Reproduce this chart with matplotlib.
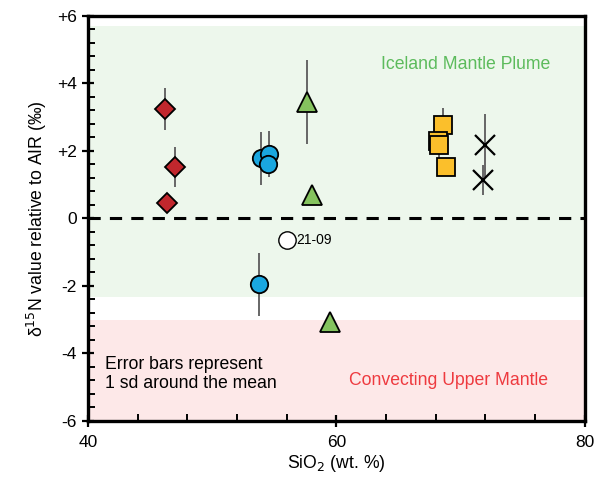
import matplotlib
matplotlib.use("Agg")
import matplotlib.pyplot as plt
from matplotlib.ticker import MultipleLocator

plt.rcParams["font.family"] = ["Liberation Sans", "DejaVu Sans"]

# ── Data ──────────────────────────────────────────────────────────────────────
dia_x  = [46.2, 47.0, 46.4]
dia_y  = [3.25, 1.52, 0.45]
dia_sd = [0.62, 0.60, 0.0]

blue_x  = [53.9, 54.6, 54.5, 53.8]
blue_y  = [1.78, 1.92, 1.62, -1.95]
blue_sd = [0.78, 0.68, 0.0, 0.93]

open_x, open_y, open_label = [56.0], [-0.65], "21-09"

tri_x  = [57.6, 58.0, 59.5]
tri_y  = [3.45, 0.70, -3.08]
tri_sd = [1.25, 0.20, 0.0]

sq_x  = [68.6, 68.2, 68.3, 68.8]
sq_y  = [2.78, 2.30, 2.18, 1.52]
sq_sd = [0.48, 0.0, 0.60, 0.0]

cross_x  = [72.0, 71.8]
cross_y  = [2.16, 1.13]
cross_sd = [0.92, 0.45]

ytick_vals   = [-6, -4, -2, 0, 2, 4, 6]
ytick_labels = ["-6", "-4", "-2", "0", "+2", "+4", "+6"]

FS = 12.7

fig = plt.figure(figsize=(5.98, 4.82), dpi=100)
ax = fig.add_axes([0.147, 0.127, 0.831, 0.840])
ax.set_xlim(40, 80)
ax.set_ylim(-6, 6)

# background fields
ax.axhspan(-2.32, 5.7, color="#edf7ec", zorder=0, lw=0)
ax.axhspan(-6, -3.0, color="#fde8e8", zorder=0, lw=0)
ax.axhline(0, color="black", lw=2.2, ls=(0, (4, 3)), zorder=1)

err_kw = dict(fmt="none", ecolor="#666666", elinewidth=1.4, capsize=0, zorder=2)

def series(x, y, sd, **kw):
    ax.errorbar(x, y, yerr=sd, **err_kw)
    ax.plot(x, y, ls="none", zorder=3, **kw)

series(dia_x, dia_y, dia_sd, marker="D", ms=10.5, mfc="#c1272d", mec="black", mew=1.3)
series(blue_x, blue_y, blue_sd, marker="o", ms=12.5, mfc="#1aa7e0", mec="black", mew=1.3)
ax.plot(open_x, open_y, ls="none", marker="o", ms=12.5, mfc="white", mec="black",
        mew=1.0, zorder=3)
ax.text(open_x[0] + 0.8, open_y[0], open_label, fontsize=10, va="center", ha="left")
series(tri_x, tri_y, tri_sd, marker="^", ms=15, mfc="#85c35e", mec="black", mew=1.3)
series(sq_x, sq_y, sq_sd, marker="s", ms=12.5, mfc="#fbbf2b", mec="black", mew=1.3)
series(cross_x, cross_y, cross_sd, marker="x", ms=14, mec="black", mew=1.6)

ax.text(70.4, 4.55, "Iceland Mantle Plume", color="#5cbb5c", fontsize=FS,
        ha="center", va="center")
ax.text(69.0, -4.82, "Convecting Upper Mantle", color="#ee3a3f", fontsize=FS,
        ha="center", va="center")
ax.text(41.4, -4.62, "Error bars represent\n1 sd around the mean", fontsize=FS,
        ha="left", va="center", linespacing=1.15)

# axes styling
for s in ax.spines.values():
    s.set_linewidth(2.4)
ax.xaxis.set_major_locator(MultipleLocator(20))
ax.xaxis.set_minor_locator(MultipleLocator(4))
ax.yaxis.set_minor_locator(MultipleLocator(0.4))
ax.set_yticks(ytick_vals)
ax.set_yticklabels(ytick_labels)
ax.tick_params(which="major", direction="inout", length=9, width=1.6, labelsize=12.5)
ax.tick_params(which="minor", direction="in", length=5, width=1.4)
ax.tick_params(axis="x", pad=6)

ax.set_xlabel("SiO$_2$ (wt. %)", fontsize=FS, labelpad=2)
ax.set_ylabel("δ$^{15}$N value relative to AIR (‰)", fontsize=FS, labelpad=6)

plt.savefig("out.png", dpi=100)
